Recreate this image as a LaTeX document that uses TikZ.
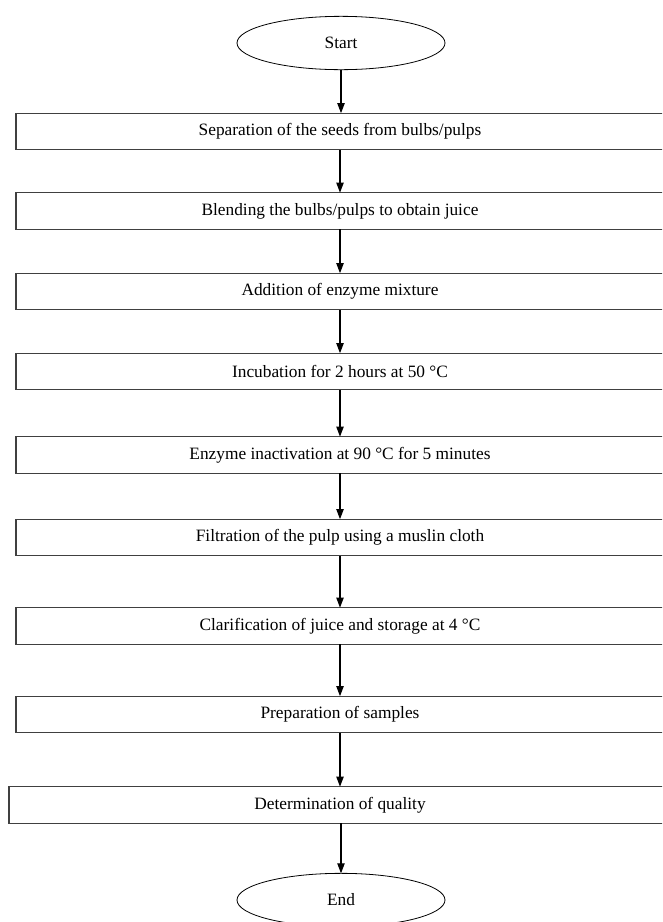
\documentclass[tikz,border=0pt]{standalone}
\usepackage{fontspec}
\setmainfont{Liberation Serif}
\usepackage{tikz}
\usetikzlibrary{shapes.geometric,arrows.meta}

\begin{document}
\begin{tikzpicture}[x=0.75pt,y=-0.75pt,
	every node/.style={inner sep=1,outer sep=0,font=\fontsize{13}{15}\selectfont},
	stepbox/.style={draw=black!75,line width=0.8pt,minimum width=486pt,minimum height=27.5pt},
	term/.style={ellipse,draw,line width=0.6pt,minimum width=156pt,minimum height=40pt},
	flow/.style={-{Triangle[width=5.5pt,length=7.5pt]},line width=0.8pt}]
	\clip (0,0) rectangle (662,922);
	\node[term] (start) at (341,43) {Start};
	\node[stepbox] (s1) at (340,131.5) {Separation of the seeds from bulbs/pulps};
	\node[stepbox] (s2) at (340,211) {Blending the bulbs/pulps to obtain juice};
	\node[stepbox] (s3) at (340,291.5) {Addition of enzyme mixture};
	\node[stepbox] (s4) at (340,371.5) {Incubation for 2 hours at 50 °C};
	\node[stepbox] (s5) at (340,455) {Enzyme inactivation at 90 °C for 5 minutes};
	\node[stepbox] (s6) at (340,537.5) {Filtration of the pulp using a muslin cloth};
	\node[stepbox] (s7) at (340,626) {Clarification of juice and storage at 4 °C};
	\node[stepbox] (s8) at (340,714.5) {Preparation of samples};
	\node[stepbox,minimum width=496.5pt] (s9) at (340,805) {Determination of quality};
	\node[term] (end) at (341,900) {End};
	\draw[flow] (start) -- (start |- s1.north);
	\draw[flow] (s1) -- (s2);
	\draw[flow] (s2) -- (s3);
	\draw[flow] (s3) -- (s4);
	\draw[flow] (s4) -- (s5);
	\draw[flow] (s5) -- (s6);
	\draw[flow] (s6) -- (s7);
	\draw[flow] (s7) -- (s8);
	\draw[flow] (s8) -- (s9);
	\draw[flow] (s9.south -| end) -- (end);
\end{tikzpicture}
\end{document}
